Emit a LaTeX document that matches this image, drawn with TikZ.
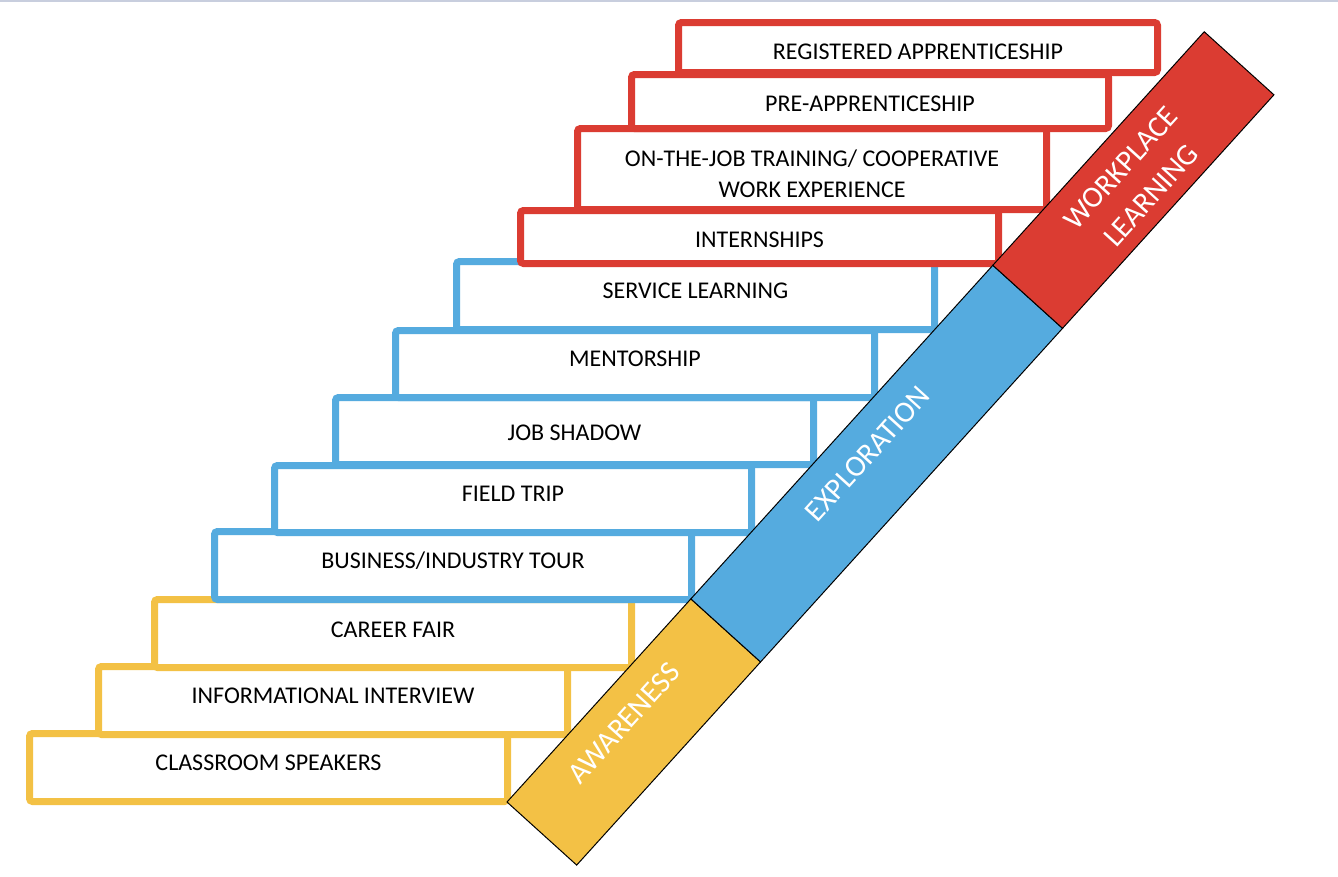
\documentclass[tikz,border=0pt]{standalone}
\usepackage{fontspec}
\setmainfont{Carlito}
\definecolor{yel}{RGB}{243,193,69}
\definecolor{blu}{RGB}{85,171,223}
\definecolor{rd}{RGB}{219,60,50}
\definecolor{topline}{RGB}{200,206,222}
\begin{document}
\begin{tikzpicture}[x=1pt,y=-1pt,
  stepbox/.style={draw=#1, line width=7pt, rounded corners=3pt, fill=white, inner sep=0pt,
    font=\fontsize{24}{31}\selectfont, text=black},
  steptext/.style={font=\fontsize{24}{31}\selectfont, text=black, align=center, inner sep=0pt},
  bandlbl/.style={text=white, font=\fontsize{30}{41}\selectfont, rotate=47.85, align=center, inner sep=0pt},
  bandseg/.style={fill=#1, draw=black, line width=1pt}]
\useasboundingbox (0,0) rectangle (1338,876);
\coordinate (tl) at (0,0.75);
\coordinate (tr) at (1338,0.75);
\draw[topline, line width=1.5pt] (tl) -- (tr);
% awareness
\node[stepbox=yel, minimum width=478pt, minimum height=68pt, text height=15.2pt, text depth=9pt] (cs) at (268.5,767.5) {CLASSROOM SPEAKERS};
\node[stepbox=yel, minimum width=469pt, minimum height=68pt, text height=15.2pt, text depth=9pt] (ii) at (333,700.5) {INFORMATIONAL INTERVIEW};
\node[stepbox=yel, minimum width=477pt, minimum height=68pt, text height=15.2pt, text depth=7pt] (cf) at (393,633.5) {CAREER FAIR};
% exploration
\node[stepbox=blu, minimum width=477pt, minimum height=68pt, text height=15.2pt, text depth=9pt] (bt) at (453,565.5) {BUSINESS/INDUSTRY TOUR};
\node[stepbox=blu, minimum width=477pt, minimum height=67pt, text height=15.2pt, text depth=9.4pt] (ft) at (513,499) {FIELD TRIP};
\node[stepbox=blu, minimum width=478pt, minimum height=67pt, text height=19.2pt, text depth=0pt] (js) at (574.5,431) {JOB SHADOW};
\node[stepbox=blu, minimum width=479pt, minimum height=67pt, text height=15.2pt, text depth=10.4pt] (me) at (635,364) {MENTORSHIP};
\node[stepbox=blu, minimum width=478pt, minimum height=68pt, text height=15.2pt, text depth=9pt] (sl) at (695.5,295.5) {SERVICE LEARNING};
% workplace learning
\node[stepbox=rd, minimum width=478pt, minimum height=53pt, text height=21.2pt, text depth=0pt] (in) at (759.5,237) {INTERNSHIPS};
\node[stepbox=rd, minimum width=469pt, minimum height=81pt] (oj) at (812,169) {};
\node[steptext] (ojt) at (812,173.5) {ON-THE-JOB TRAINING/ COOPERATIVE\\WORK EXPERIENCE};
\node[stepbox=rd, minimum width=477pt, minimum height=54pt, text height=19.2pt, text depth=0pt] (pa) at (870,101.5) {PRE-APPRENTICESHIP};
\node[stepbox=rd, minimum width=479pt, minimum height=50pt, text height=23.8pt, text depth=0pt] (ra) at (918,47.5) {REGISTERED APPRENTICESHIP};
% diagonal band
\begin{scope}[shift={(507,802)}, rotate=47.85]
  \path[bandseg=yel] (0,0) rectangle (274,94);
  \path[bandseg=blu] (274,0) rectangle (724,94);
  \path[bandseg=rd] (724,0) rectangle (1039,94);
  \node[bandlbl, text height=19pt, text depth=0pt] (aw) at (137,34) {AWARENESS};
  \node[bandlbl, text height=19pt, text depth=0pt] (ex) at (500,34) {EXPLORATION};
  \node[bandlbl] (wl) at (882,50) {WORKPLACE\\LEARNING};
\end{scope}
\end{tikzpicture}
\end{document}
